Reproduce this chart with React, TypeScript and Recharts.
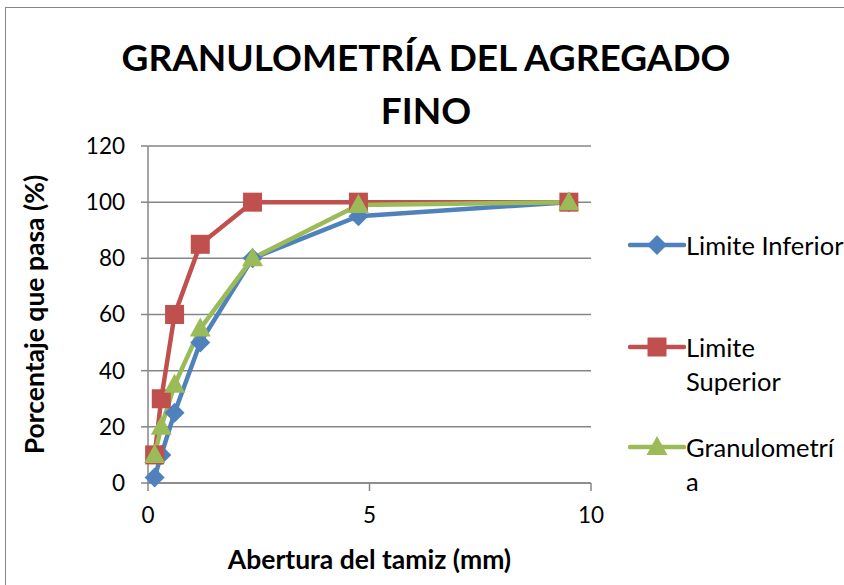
import { LineChart, Line, XAxis, YAxis, CartesianGrid } from 'recharts'

// Sieve openings (mm) and percent passing
const aberturas = [0.15, 0.3, 0.6, 1.18, 2.36, 4.75, 9.5]
const limiteInferior = [2, 10, 25, 50, 80, 95, 100]
const limiteSuperior = [10, 30, 60, 85, 100, 100, 100]
const granulometria = [10, 20, 35, 55, 80, 99, 100]
const xTicks = [0, 5, 10]
const yTicks = [0, 20, 40, 60, 80, 100, 120]

const BLUE = '#4F81BD'
const RED = '#C0504D'
const GREEN = '#9BBB59'
const GRAY = '#868686'
const FONT = 'Lato, "Open Sans", sans-serif'

const data = aberturas.map((x, i) => ({
  x,
  inf: limiteInferior[i],
  sup: limiteSuperior[i],
  gra: granulometria[i],
}))

const Diamond = ({ cx, cy, color }: { cx: number; cy: number; color: string }) => (
  <path d={`M${cx},${cy - 10} L${cx + 10},${cy} L${cx},${cy + 10} L${cx - 10},${cy} Z`} fill={color} />
)
const Square = ({ cx, cy, color }: { cx: number; cy: number; color: string }) => (
  <rect x={cx - 9.5} y={cy - 9.5} width={19} height={19} fill={color} />
)
const Triangle = ({ cx, cy, color }: { cx: number; cy: number; color: string }) => (
  <path d={`M${cx},${cy - 11} L${cx + 10.5},${cy + 8} L${cx - 10.5},${cy + 8} Z`} fill={color} />
)

const legendItems = [
  { lines: ['Limite Inferior'], color: BLUE, Marker: Diamond, top: 245 },
  { lines: ['Limite', 'Superior'], color: RED, Marker: Square, top: 347 },
  { lines: ['Granulometrí', 'a'], color: GREEN, Marker: Triangle, top: 447 },
]

export default function App() {
  return (
    <div
      style={{
        position: 'absolute',
        left: 0,
        top: 0,
        width: 844,
        height: 585,
        overflow: 'hidden',
        background: '#fff',
        fontFamily: FONT,
      }}
    >
      <div
        style={{
          position: 'absolute',
          left: 5,
          top: 7,
          width: 900,
          height: 700,
          border: `1.5px solid ${GRAY}`,
        }}
      />
      <div
        style={{
          position: 'absolute',
          left: 0,
          width: 852,
          top: 30,
          textAlign: 'center',
          fontWeight: 'bold',
          fontSize: 37,
          lineHeight: '53px',
          color: '#000',
        }}
      >
        GRANULOMETRÍA DEL AGREGADO
        <br />
        FINO
      </div>
      <div style={{ position: 'absolute', left: 0, top: 0 }}>
        <LineChart
          width={844}
          height={585}
          data={data}
          margin={{ top: 146, right: 253, bottom: 0, left: 5 }}
        >
          <CartesianGrid vertical={false} stroke={GRAY} strokeWidth={1.5} />
          <XAxis
            dataKey="x"
            type="number"
            domain={[0, 10]}
            ticks={xTicks}
            height={102}
            stroke={GRAY}
            strokeWidth={1.5}
            tickSize={8}
            tickMargin={16}
            tick={{ fill: '#000', fontSize: 22.5, fontFamily: FONT }}
            label={{
              content: ({ viewBox }: any) => (
                <text
                  x={viewBox.x + viewBox.width / 2}
                  y={viewBox.y + 86}
                  textAnchor="middle"
                  fontSize={26.5}
                  fontWeight="bold"
                  fontFamily={FONT}
                  fill="#000"
                >
                  Abertura del tamiz (mm)
                </text>
              ),
            }}
          />
          <YAxis
            type="number"
            domain={[0, 120]}
            ticks={yTicks}
            width={143}
            stroke={GRAY}
            strokeWidth={1.5}
            tickSize={7}
            tickMargin={16}
            tick={{ fill: '#000', fontSize: 22.5, fontFamily: FONT }}
            label={{
              content: ({ viewBox }: any) => {
                const cx = 34
                const cy = viewBox.y + viewBox.height / 2
                return (
                  <text
                    x={cx}
                    y={cy}
                    transform={`rotate(-90, ${cx}, ${cy})`}
                    textAnchor="middle"
                    dominantBaseline="central"
                    fontSize={26.5}
                    fontWeight="bold"
                    fontFamily={FONT}
                    fill="#000"
                  >
                    Porcentaje que pasa (%)
                  </text>
                )
              },
            }}
          />
          <Line
            dataKey="inf"
            stroke={BLUE}
            strokeWidth={4.5}
            isAnimationActive={false}
            dot={(p: any) => <Diamond key={p.key} cx={p.cx} cy={p.cy} color={BLUE} />}
          />
          <Line
            dataKey="sup"
            stroke={RED}
            strokeWidth={4.5}
            isAnimationActive={false}
            dot={(p: any) => <Square key={p.key} cx={p.cx} cy={p.cy} color={RED} />}
          />
          <Line
            dataKey="gra"
            stroke={GREEN}
            strokeWidth={4.5}
            isAnimationActive={false}
            dot={(p: any) => <Triangle key={p.key} cx={p.cx} cy={p.cy} color={GREEN} />}
          />
        </LineChart>
      </div>
      {legendItems.map(({ lines, color, Marker, top }) => (
        <div key={lines.join()} style={{ position: 'absolute', left: 628, top: top - 13 }}>
          <svg width={58} height={26} style={{ position: 'absolute', left: 0, top: 0 }}>
            <line x1={2} y1={13} x2={56} y2={13} stroke={color} strokeWidth={4.5} strokeLinecap="round" />
            <Marker cx={29} cy={13} color={color} />
          </svg>
          <div
            style={{
              position: 'absolute',
              left: 58,
              top: 0,
              fontSize: 25.5,
              lineHeight: '34px',
              marginTop: -4,
              whiteSpace: 'nowrap',
              color: '#000',
            }}
          >
            {lines.map((l) => (
              <div key={l}>{l}</div>
            ))}
          </div>
        </div>
      ))}
    </div>
  )
}
